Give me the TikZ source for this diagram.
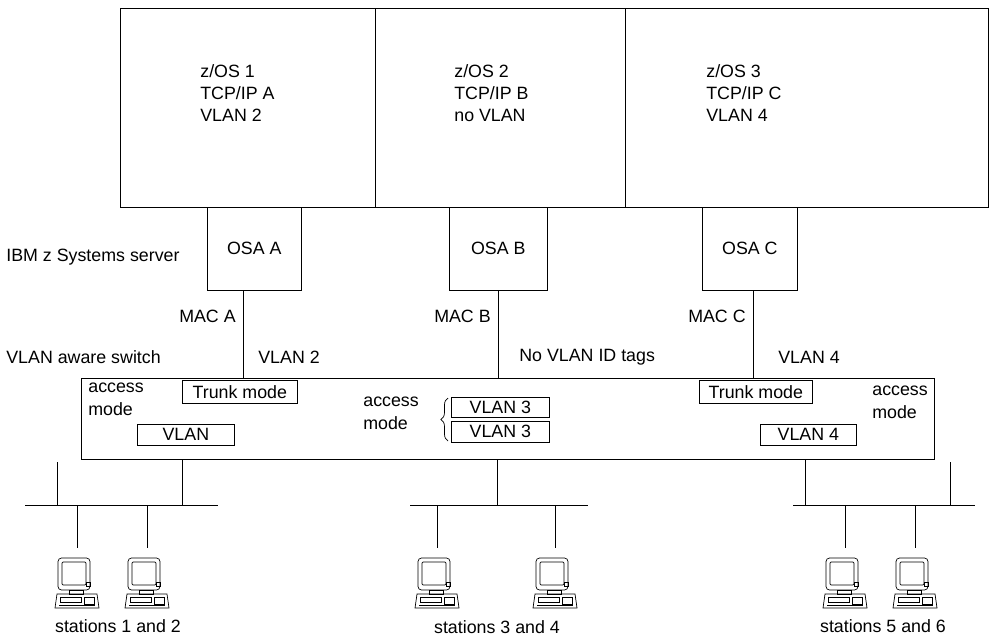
\documentclass[tikz,border=0pt]{standalone}
\usepackage{fontspec}
\setmainfont{Liberation Sans}
\usetikzlibrary{decorations.pathreplacing}
\begin{document}
\begin{tikzpicture}[x=0.03cm,y=-0.03cm,line width=0.6pt,
  txt/.style={font=\fontsize{15.2}{19}\selectfont,inner sep=0pt},
  lbl/.style={txt,anchor=west,align=left},
  bx/.style={draw,rectangle,inner sep=0pt},
  pics/pc/.style={code={
    \draw[rounded corners=3pt] (-19,-19) rectangle (13,13);
    \draw[rounded corners=1pt] (-15,-15) rectangle (9,8);
    \draw (9,5) rectangle (13,9);
    \draw (-8,13) rectangle (6,17);
    \draw (-20,17) -- (20,17) -- (22,31) -- (-22,31) -- cycle;
    \draw (-17,20) rectangle (4,25);
    \draw (7,20) rectangle (17,27);
    \draw (-18,28) -- (18,28);
  }}]
\useasboundingbox (0,0) rectangle (1000,638);
% top
\node[bx,minimum width=255*0.03cm,minimum height=199*0.03cm,anchor=north west] (s1) at (120,8) {};
\node[bx,minimum width=250*0.03cm,minimum height=199*0.03cm,anchor=north west] (s2) at (375,8) {};
\node[bx,minimum width=363*0.03cm,minimum height=199*0.03cm,anchor=north west] (s3) at (625,8) {};
\node[lbl,anchor=north west] (t1) at (200,64) {z/OS 1\\TCP/IP A\\VLAN 2};
\node[lbl,anchor=north west] (t2) at (454,64) {z/OS 2\\TCP/IP B\\no VLAN};
\node[lbl,anchor=north west] (t3) at (706,64) {z/OS 3\\TCP/IP C\\VLAN 4};
% OSA
\node[bx,minimum width=94*0.03cm,minimum height=83*0.03cm,anchor=north west] (oa) at (207,207) {};
\node[txt] at (oa) {OSA A};
\node[bx,minimum width=98*0.03cm,minimum height=83*0.03cm,anchor=north west] (ob) at (449,207) {};
\node[txt] at (ob) {OSA B};
\node[bx,minimum width=95*0.03cm,minimum height=83*0.03cm,anchor=north west] (oc) at (702,207) {};
\node[txt] at (oc) {OSA C};
\node[lbl] (ibm) at (6,257) {IBM z Systems server};
\node[lbl] (vas) at (6,357) {VLAN aware switch};
% switch
\node[bx,minimum width=853*0.03cm,minimum height=81*0.03cm,anchor=north west] (sw) at (81,378) {};
\coordinate (ta) at (243,378); \coordinate (tb) at (498,378); \coordinate (tc) at (753,378);
\draw (243,290) -- (ta); \draw (498,290) -- (tb); \draw (753,290) -- (tc);
\node[txt,anchor=east] (ma) at (236,316) {MAC A};
\node[lbl] (va) at (258,357) {VLAN 2};
\node[txt,anchor=east] (mb) at (491,316) {MAC B};
\node[lbl] (nv) at (519,357) {No VLAN ID tags};
\node[txt,anchor=east] (mc) at (746,316) {MAC C};
\node[lbl] (v4) at (778,357) {VLAN 4};
% inside switch
\node[bx,minimum width=115*0.03cm,minimum height=23*0.03cm,anchor=north west] (tr1) at (182,380) {};
\node[txt] at (tr1) {Trunk mode};
\node[bx,minimum width=97*0.03cm,minimum height=21*0.03cm,anchor=north west] (vl) at (137,424) {};
\node[txt] at (vl) {VLAN};
\node[lbl,anchor=north west] (am1) at (88,383) {access\\mode};
\node[lbl,anchor=north west] (am2) at (363,397) {access\\mode};
\node[bx,minimum width=98*0.03cm,minimum height=20*0.03cm,anchor=north west] (v3a) at (451,397) {};
\node[txt] at (v3a) {VLAN 3};
\node[bx,minimum width=98*0.03cm,minimum height=21*0.03cm,anchor=north west] (v3b) at (451,421) {};
\node[txt] at (v3b) {VLAN 3};
\draw[decorate,decoration={brace,amplitude=6pt}] (448,441) -- (448,398);
\node[bx,minimum width=113*0.03cm,minimum height=23*0.03cm,anchor=north west] (tr2) at (699,380) {};
\node[txt] at (tr2) {Trunk mode};
\node[bx,minimum width=96*0.03cm,minimum height=21*0.03cm,anchor=north west] (vl4) at (760,424) {};
\node[txt] at (vl4) {VLAN 4};
\node[lbl,anchor=north west] (am3) at (872,386) {access\\mode};
% bottom left
\draw (182,459) -- (182,505); \draw (25,505) -- (218,505); \draw (57,462) -- (57,505);
\pic (c1) at (77,577) {pc}; \pic (c2) at (147,577) {pc};
\draw (77,505) -- (77,548); \draw (147,505) -- (147,548);
\node[txt] (l1) at (118,626) {stations 1 and 2};
% bottom middle
\draw (497,459) -- (497,505); \draw (410,505) -- (588,505);
\draw (437,505) -- (437,548); \draw (555,505) -- (555,548);
\pic (c3) at (437,577) {pc}; \pic (c4) at (555,577) {pc};
\node[txt] (l2) at (497,627) {stations 3 and 4};
% bottom right
\draw (805,459) -- (805,505); \draw (950,462) -- (950,505); \draw (793,505) -- (975,505);
\draw (845,505) -- (845,548); \draw (915,505) -- (915,548);
\pic (c5) at (845,577) {pc}; \pic (c6) at (915,577) {pc};
\node[txt] (l3) at (883,626) {stations 5 and 6};
\end{tikzpicture}
\end{document}
